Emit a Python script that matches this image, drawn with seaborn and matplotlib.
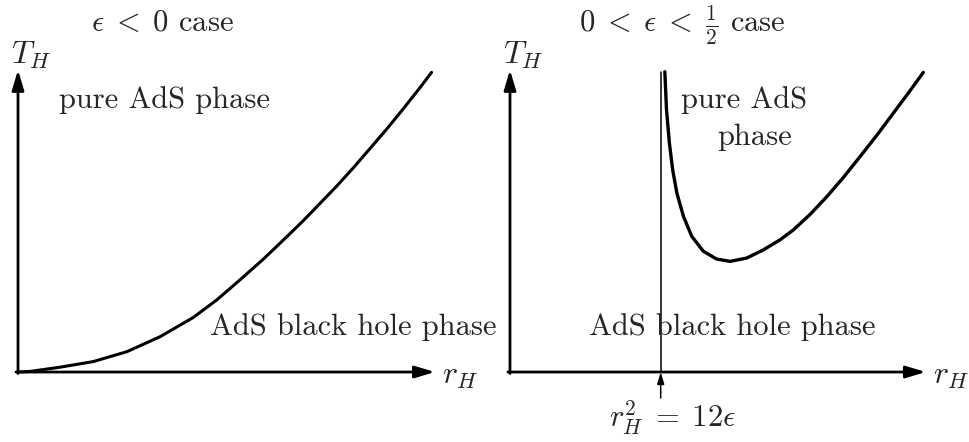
import matplotlib.pyplot as plt
import seaborn as sns
import numpy as np

sns.set_style("white")
plt.rcParams['mathtext.fontset'] = 'cm'
plt.rcParams['font.family'] = ['cmr10', 'DejaVu Serif']
plt.rcParams['axes.unicode_minus'] = False

# curves (r_H, T_H), arbitrary units
r_left = [0.0, 0.029, 0.101, 0.182, 0.263, 0.343, 0.424, 0.480, 0.536, 0.593,
          0.649, 0.689, 0.729, 0.770, 0.810, 0.850, 0.891, 0.931, 0.971, 0.999]
T_left = [0.0, 0.002, 0.016, 0.035, 0.068, 0.118, 0.183, 0.241, 0.308, 0.378,
          0.452, 0.506, 0.563, 0.622, 0.683, 0.747, 0.813, 0.881, 0.951, 1.002]

r_right = [0.375, 0.379, 0.386, 0.394, 0.404, 0.420, 0.440, 0.468, 0.500, 0.533,
           0.573, 0.613, 0.654, 0.686, 0.726, 0.767, 0.807, 0.847, 0.888, 0.928,
           0.969, 1.001]
T_right = [1.004, 0.878, 0.766, 0.676, 0.599, 0.521, 0.454, 0.404, 0.378, 0.370,
           0.381, 0.408, 0.442, 0.475, 0.526, 0.586, 0.650, 0.719, 0.791, 0.865,
           0.941, 1.002]

r_asym = 0.365  # r_H^2 = 12 eps

FS = 22

fig = plt.figure(figsize=(9.70, 4.42), dpi=100)
ax1 = fig.add_axes([0, 0, 0.5, 1])
ax2 = fig.add_axes([0.5, 0, 0.5, 1])
ax1.set_xlim(-0.0435, 1.128)
ax2.set_xlim(-0.0605, 1.114)
for ax in (ax1, ax2):
    ax.set_ylim(-0.234, 1.244)
    ax.axis('off')

def draw_axes(ax):
    head = dict(arrowstyle='-|>,head_length=0.6,head_width=0.18',
                lw=2, color='black', mutation_scale=20, shrinkA=0, shrinkB=0)
    ax.annotate('', xy=(1.007, 0), xytext=(-0.005, 0), arrowprops=head)
    ax.annotate('', xy=(0, 1.01), xytext=(0, -0.005), arrowprops=head)
    ax.text(0.032, 1.06, r'$T_H$', fontsize=FS + 1, ha='center', va='center')
    ax.text(1.067, -0.017, r'$r_H$', fontsize=FS + 1, ha='center', va='center')

# left panel
draw_axes(ax1)
sns.lineplot(x=r_left, y=T_left, ax=ax1, color='black', lw=2.2,
             sort=False, estimator=None)
ax1.text(0.348, 1.167, r'$\epsilon\;<\;0$ case', fontsize=FS, ha='center', va='center')
ax1.text(0.354, 0.91, 'pure AdS phase', fontsize=FS, ha='center', va='center')
ax1.text(0.809, 0.15, 'AdS black hole phase', fontsize=FS, ha='center', va='center')

# right panel
draw_axes(ax2)
ax2.plot([r_asym, r_asym], [0, 1.003], color='black', lw=1.1)
ax2.annotate('', xy=(r_asym, 0), xytext=(r_asym, -0.087),
             arrowprops=dict(arrowstyle='-|>,head_length=0.5,head_width=0.15',
                             lw=1.1, color='black', mutation_scale=14,
                             shrinkA=0, shrinkB=0))
sns.lineplot(x=r_right, y=T_right, ax=ax2, color='black', lw=2.4,
             sort=False, estimator=None)
ax2.text(0.418, 1.16, r'$0\;<\;\epsilon\;<\;\frac{1}{2}$ case', fontsize=FS,
         ha='center', va='center')
ax2.text(0.567, 0.91, 'pure AdS', fontsize=FS, ha='center', va='center')
ax2.text(0.593, 0.786, 'phase', fontsize=FS, ha='center', va='center')
ax2.text(0.538, 0.15, 'AdS black hole phase', fontsize=FS, ha='center', va='center')
ax2.text(0.393, -0.154, r'$r_H^2\;=\;12\epsilon$', fontsize=FS, ha='center', va='center')

fig.savefig('out.png', dpi=100, facecolor='white')
